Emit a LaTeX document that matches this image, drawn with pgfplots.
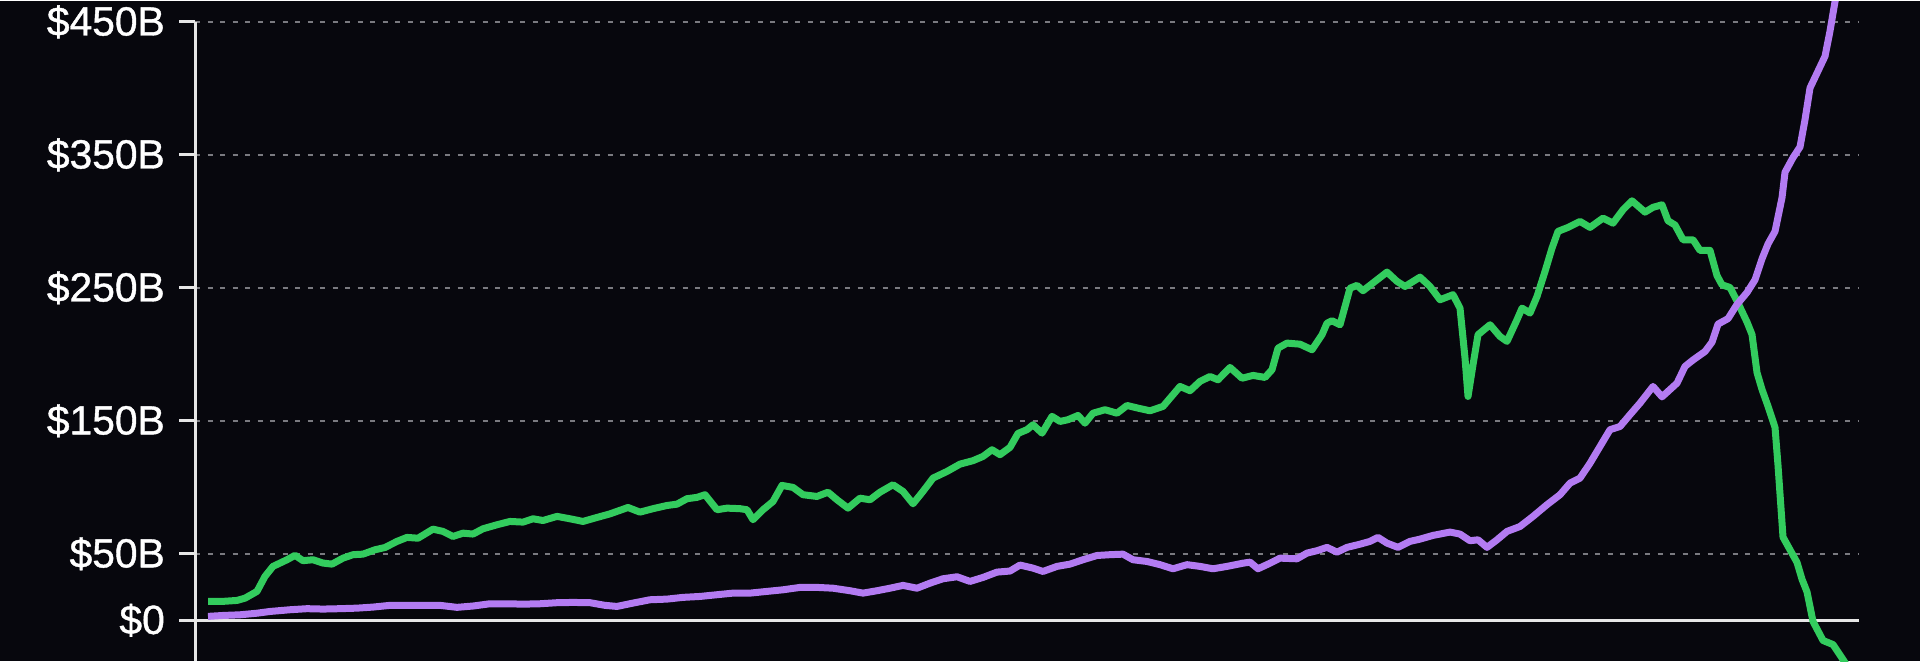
\documentclass[border=0pt]{standalone}
\usepackage{pgfplots}
\pgfplotsset{compat=1.18}
\usepackage{fontspec}
\setmainfont{Liberation Sans}
\newfontfamily\labelfont{Liberation Sans}[FakeBold=1]

\definecolor{bg}{HTML}{07070D}
\definecolor{gline}{HTML}{33CC5E}
\definecolor{pline}{HTML}{B37BF2}
\definecolor{axcol}{HTML}{E6E6E6}
\definecolor{gridcol}{HTML}{7A7A80}

% x = position along the time axis, y = $ billions
\pgfplotstableread{
x y
208 14.2
223 14.2
237 14.9
245 16.6
257 21.7
265 33.0
273 40.5
287 45.5
295 48.8
303 44.8
313 45.5
323 43.0
332 42.2
343 46.7
353 49.3
363 49.7
375 53.0
385 54.7
397 59.3
407 62.3
418 61.7
433 68.5
443 66.8
453 63.0
463 65.5
473 64.8
483 68.8
497 71.8
510 74.3
523 73.8
533 76.3
543 75.0
557 78.1
570 76.3
583 74.3
597 77.3
610 80.0
628 84.8
640 81.3
653 83.9
667 86.3
677 87.3
687 91.4
697 92.4
705 94.4
717 83.1
727 84.3
740 83.9
747 83.1
753 75.6
763 83.1
773 89.3
782 101.4
793 99.9
803 94.4
817 93.1
828 96.3
837 90.6
848 84.3
860 91.8
870 90.6
880 96.3
893 101.9
903 96.9
913 87.6
923 96.9
933 106.9
947 111.9
960 117.4
973 120.0
983 123.2
992 128.2
1000 124.5
1010 130.0
1018 140.5
1027 143.3
1033 147.0
1042 140.7
1052 153.3
1060 149.5
1068 150.8
1078 154.0
1085 148.2
1093 155.7
1105 158.3
1117 155.7
1127 161.5
1138 159.5
1150 157.5
1163 160.8
1173 169.6
1180 175.8
1190 172.6
1200 179.6
1210 183.3
1218 180.8
1230 190.1
1242 182.0
1253 184.1
1265 182.6
1272 188.4
1278 204.6
1287 208.4
1300 207.6
1312 203.4
1322 214.7
1327 223.4
1332 225.2
1340 222.2
1350 249.7
1357 251.8
1363 247.8
1375 254.8
1387 261.8
1397 254.8
1405 251.0
1420 258.0
1430 251.0
1440 241.0
1453 244.8
1460 234.7
1465 197.1
1468 168.3
1473 192.1
1478 214.7
1490 222.2
1500 213.4
1507 209.7
1517 226.0
1522 234.7
1530 231.0
1537 243.5
1545 262.3
1552 279.8
1558 292.4
1568 295.4
1580 299.9
1590 295.4
1603 302.4
1613 298.6
1623 308.7
1632 315.4
1645 306.9
1653 310.5
1662 312.4
1668 300.4
1675 297.2
1683 286.1
1693 286.1
1700 278.1
1710 278.1
1717 259.1
1722 252.2
1730 250.2
1737 240.1
1747 224.2
1752 214.8
1757 186.2
1762 173.5
1768 160.9
1775 145.0
1778 116.4
1783 62.5
1790 53.0
1797 43.5
1802 30.8
1807 21.3
1813 -0.9
1823 -15.2
1833 -18.3
1843 -29.5
1850 -38.0
}\greendata

\pgfplotstableread{
x y
208 2.9
223 3.6
240 4.1
257 5.3
270 6.6
290 7.9
307 8.7
323 8.4
340 8.7
357 9.1
373 9.9
390 11.2
407 11.2
423 11.2
440 11.2
457 9.7
473 10.7
490 12.4
507 12.4
523 12.1
540 12.4
557 13.2
573 13.4
590 13.2
605 11.2
617 10.4
633 12.9
650 15.4
667 15.9
683 17.2
700 17.9
717 19.2
733 20.4
750 20.4
767 21.7
783 22.9
800 24.7
817 24.7
833 24.1
850 22.2
863 20.4
877 22.2
890 24.1
903 26.2
917 24.1
930 27.9
943 31.2
957 32.7
970 29.2
983 32.2
997 36.2
1010 37.0
1020 41.5
1033 39.2
1043 36.7
1057 40.5
1070 42.2
1083 45.5
1097 48.7
1110 49.3
1123 49.7
1133 45.5
1147 44.2
1160 41.8
1173 38.7
1187 41.8
1200 40.5
1213 38.7
1227 40.5
1243 42.9
1250 43.7
1258 38.7
1270 42.9
1280 46.7
1297 46.2
1307 50.5
1317 52.3
1327 54.8
1337 51.2
1347 54.8
1360 57.2
1370 59.3
1378 62.3
1387 58.0
1398 54.8
1410 59.3
1420 61.0
1433 63.8
1450 66.3
1460 64.8
1470 59.8
1478 60.5
1487 54.8
1497 60.5
1507 66.8
1520 70.5
1533 78.1
1547 86.9
1560 94.4
1570 103.1
1580 106.9
1590 118.1
1600 130.7
1610 143.3
1620 145.7
1630 154.6
1640 163.3
1653 175.8
1662 168.0
1677 178.3
1685 190.9
1693 195.7
1705 202.1
1712 209.1
1718 222.7
1728 226.8
1737 237.5
1747 246.5
1755 256.0
1762 271.8
1768 283.0
1775 292.4
1782 317.8
1785 336.9
1793 347.9
1800 355.9
1805 376.5
1810 400.3
1817 411.4
1825 424.1
1830 443.1
1835 465.3
1842 485.0
}\purpledata

\begin{document}
\begin{tikzpicture}
\fill[bg] (0,0) rectangle (192mm,66mm);
\begin{axis}[
    at={(19.5mm,0mm)}, anchor=south west,
    scale only axis,
    width=166.4mm, height=66mm,
    xmin=195, xmax=1859,
    ymin=-31.0, ymax=465.3,
    axis line style={draw=none},
    xtick=\empty,
    ytick={50,150,250,350,450},
    yticklabels={\$50B,\$150B,\$250B,\$350B,\$450B},
    extra y ticks={0},
    extra y tick labels={\$0},
    extra y tick style={grid style={solid, draw=axcol, line width=0.3mm, dash pattern=}},
    ytick pos=left,
    tick align=outside,
    major tick length=1.6mm,
    tick style={draw=axcol, line width=0.3mm},
    yticklabel style={font=\labelfont\fontsize{11.6}{13}\selectfont, text=white, anchor=east, inner sep=0pt, xshift=-1.35mm},
    ymajorgrids,
    grid style={draw=gridcol, line width=0.2mm, dash pattern=on 0.5mm off 0.75mm},
    clip mode=individual,
    line join=round,
]
\addplot[draw=gline, line width=0.7mm] table {\greendata};
\addplot[draw=pline, line width=0.7mm] table {\purpledata};
\draw[axcol, line width=0.3mm] (axis cs:195,450) -- (axis cs:195,-31);
\end{axis}
\end{tikzpicture}
\end{document}
